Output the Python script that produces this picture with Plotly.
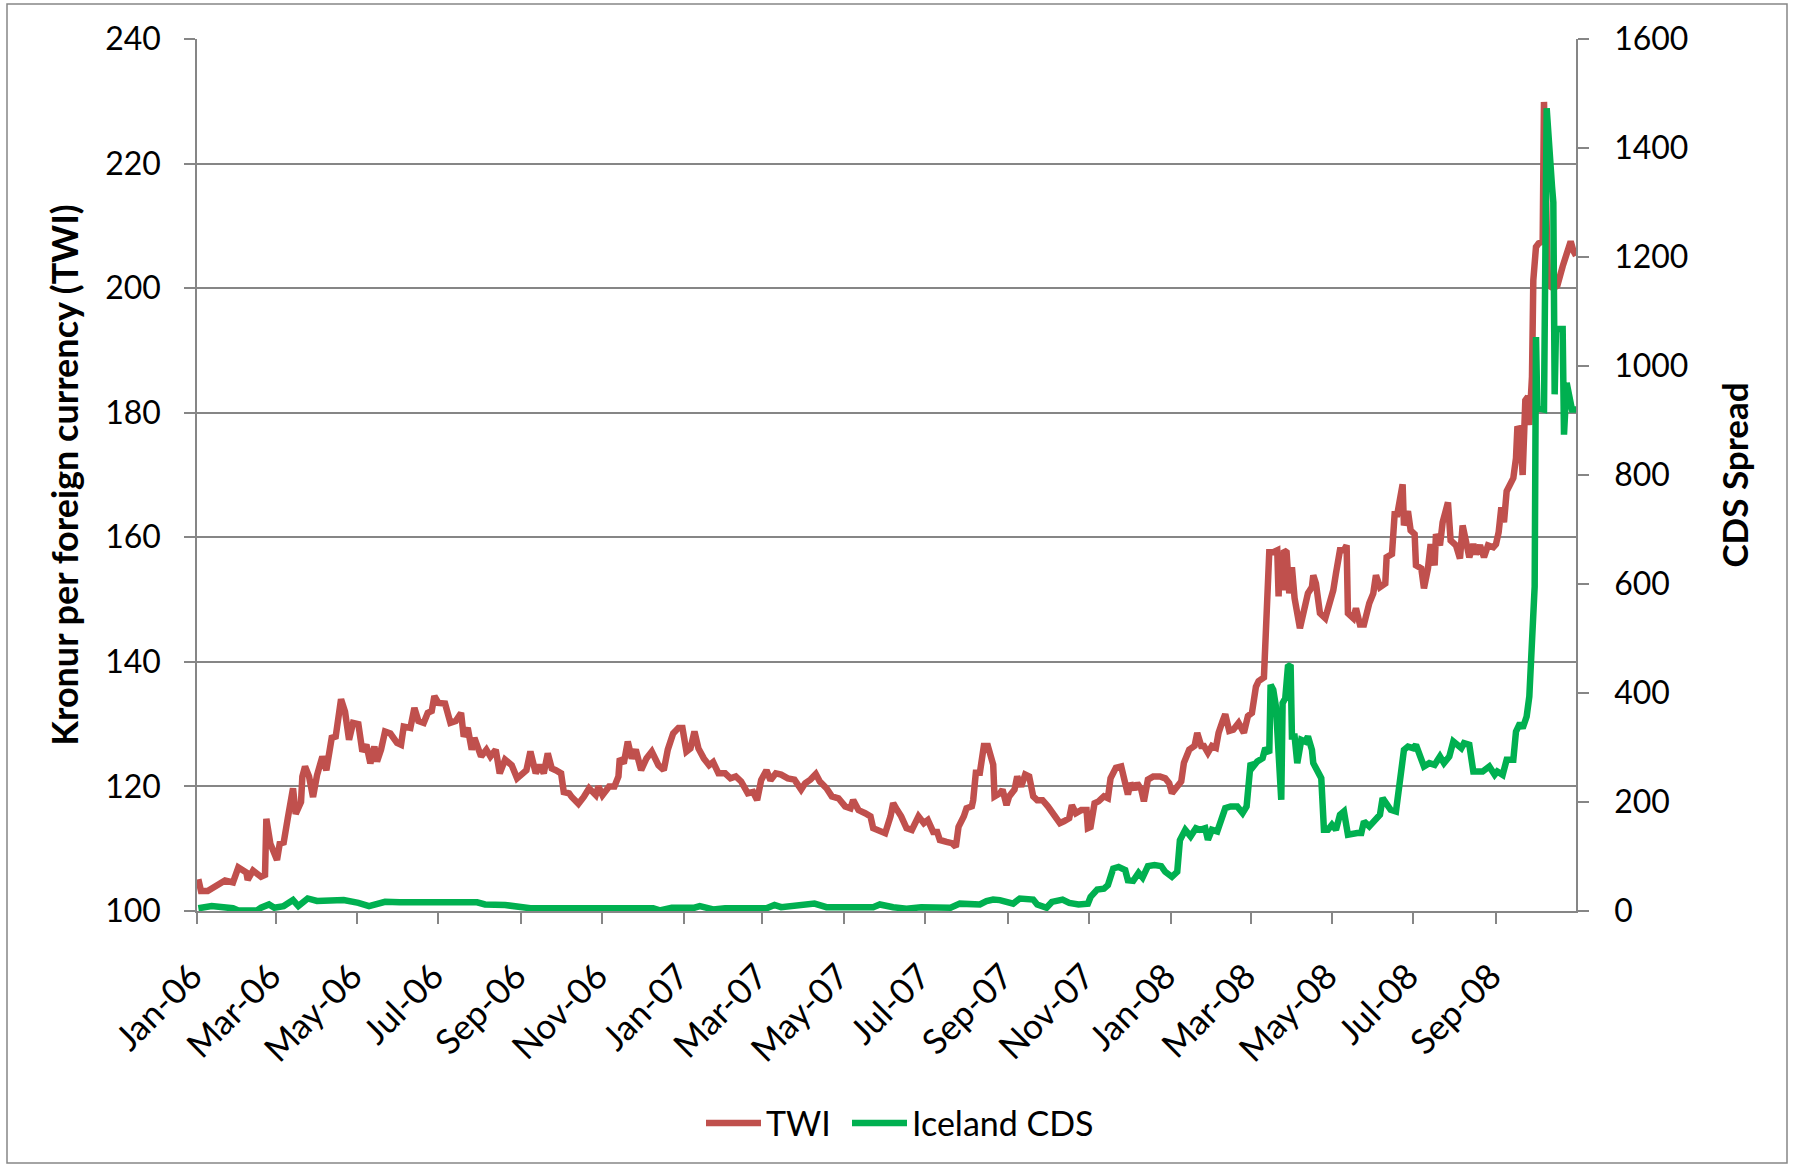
import plotly.graph_objects as go

# ---------------- data ----------------
twi_dates = [
    "2006-01-02", "2006-01-04", "2006-01-09", "2006-01-16", "2006-01-22", "2006-01-28",
    "2006-02-01", "2006-02-07", "2006-02-08", "2006-02-12", "2006-02-18", "2006-02-21",
    "2006-02-22", "2006-02-25", "2006-03-02", "2006-03-04", "2006-03-07", "2006-03-10",
    "2006-03-12", "2006-03-14", "2006-03-16", "2006-03-20", "2006-03-21", "2006-03-23",
    "2006-03-26", "2006-03-29", "2006-04-01", "2006-04-05", "2006-04-08", "2006-04-12",
    "2006-04-15", "2006-04-19", "2006-04-22", "2006-04-25", "2006-04-28", "2006-05-02",
    "2006-05-05", "2006-05-08", "2006-05-11", "2006-05-14", "2006-05-16", "2006-05-19",
    "2006-05-22", "2006-05-26", "2006-05-31", "2006-06-03", "2006-06-05", "2006-06-10",
    "2006-06-13", "2006-06-16", "2006-06-20", "2006-06-23", "2006-06-26", "2006-06-28",
    "2006-07-01", "2006-07-06", "2006-07-10", "2006-07-14", "2006-07-18", "2006-07-20",
    "2006-07-23", "2006-07-26", "2006-07-28", "2006-08-02", "2006-08-06", "2006-08-09",
    "2006-08-13", "2006-08-16", "2006-08-20", "2006-08-25", "2006-08-29", "2006-09-02",
    "2006-09-05", "2006-09-08", "2006-09-12", "2006-09-15", "2006-09-18", "2006-09-21",
    "2006-09-24", "2006-09-27", "2006-10-01", "2006-10-03", "2006-10-07", "2006-10-09",
    "2006-10-14", "2006-10-18", "2006-10-22", "2006-10-27", "2006-10-29", "2006-11-01",
    "2006-11-06", "2006-11-10", "2006-11-13", "2006-11-14", "2006-11-17", "2006-11-20",
    "2006-11-23", "2006-11-26", "2006-11-30", "2006-12-04", "2006-12-08", "2006-12-13",
    "2006-12-17", "2006-12-20", "2006-12-24", "2006-12-28", "2006-12-31",
    "2007-01-03", "2007-01-06", "2007-01-09", "2007-01-12", "2007-01-16", "2007-01-20",
    "2007-01-23", "2007-01-27", "2007-02-01", "2007-02-05", "2007-02-09", "2007-02-13",
    "2007-02-18", "2007-02-22", "2007-02-25", "2007-02-28", "2007-03-04", "2007-03-07",
    "2007-03-11", "2007-03-15", "2007-03-20", "2007-03-25", "2007-03-30", "2007-04-02",
    "2007-04-06", "2007-04-10", "2007-04-13", "2007-04-18", "2007-04-22", "2007-04-27",
    "2007-05-02", "2007-05-06", "2007-05-08", "2007-05-12", "2007-05-17", "2007-05-21",
    "2007-05-23", "2007-05-28", "2007-06-01", "2007-06-05", "2007-06-07", "2007-06-10",
    "2007-06-13", "2007-06-17", "2007-06-21", "2007-06-26", "2007-06-30", "2007-07-03",
    "2007-07-07", "2007-07-10", "2007-07-12", "2007-07-17", "2007-07-21", "2007-07-24",
    "2007-07-26", "2007-07-30", "2007-08-01", "2007-08-05", "2007-08-06", "2007-08-08",
    "2007-08-11", "2007-08-14", "2007-08-17", "2007-08-21", "2007-08-22", "2007-08-26",
    "2007-08-28", "2007-08-31", "2007-09-02", "2007-09-06", "2007-09-08", "2007-09-11",
    "2007-09-14", "2007-09-17", "2007-09-20", "2007-09-23", "2007-09-27", "2007-10-01",
    "2007-10-03", "2007-10-06", "2007-10-10", "2007-10-13", "2007-10-17", "2007-10-19",
    "2007-10-22", "2007-10-26", "2007-10-30", "2007-10-31", "2007-11-02", "2007-11-05",
    "2007-11-08", "2007-11-12", "2007-11-15", "2007-11-17", "2007-11-21", "2007-11-25",
    "2007-11-27", "2007-11-30", "2007-12-02", "2007-12-05", "2007-12-07", "2007-12-10",
    "2007-12-12", "2007-12-15", "2007-12-19", "2007-12-24", "2007-12-28", "2007-12-31",
    "2008-01-02", "2008-01-06", "2008-01-09", "2008-01-11", "2008-01-15", "2008-01-19",
    "2008-01-21", "2008-01-24", "2008-01-26", "2008-01-29", "2008-02-01", "2008-02-04",
    "2008-02-06", "2008-02-09", "2008-02-11", "2008-02-14", "2008-02-17", "2008-02-21",
    "2008-02-25", "2008-02-28", "2008-03-02", "2008-03-05", "2008-03-07", "2008-03-11",
    "2008-03-12", "2008-03-13", "2008-03-15", "2008-03-18", "2008-03-21", "2008-03-22",
    "2008-03-23", "2008-03-25", "2008-03-26", "2008-03-28", "2008-03-30", "2008-04-01",
    "2008-04-03", "2008-04-07", "2008-04-11", "2008-04-13", "2008-04-16", "2008-04-17",
    "2008-04-19", "2008-04-22", "2008-04-26", "2008-04-29", "2008-05-02", "2008-05-04",
    "2008-05-07", "2008-05-10", "2008-05-12", "2008-05-13", "2008-05-17", "2008-05-19",
    "2008-05-22", "2008-05-25", "2008-05-27", "2008-05-29", "2008-06-01", "2008-06-03",
    "2008-06-06", "2008-06-10", "2008-06-11", "2008-06-15", "2008-06-17", "2008-06-19",
    "2008-06-23", "2008-06-24", "2008-06-27", "2008-06-29", "2008-07-02", "2008-07-03",
    "2008-07-07", "2008-07-09", "2008-07-12", "2008-07-14", "2008-07-17", "2008-07-18",
    "2008-07-21", "2008-07-23", "2008-07-27", "2008-07-29", "2008-08-02", "2008-08-05",
    "2008-08-07", "2008-08-10", "2008-08-12", "2008-08-15", "2008-08-17", "2008-08-20",
    "2008-08-23", "2008-08-26", "2008-08-30", "2008-09-01", "2008-09-03", "2008-09-05",
    "2008-09-07", "2008-09-09", "2008-09-11", "2008-09-14", "2008-09-16", "2008-09-17",
    "2008-09-19", "2008-09-21", "2008-09-23", "2008-09-25", "2008-09-26", "2008-09-28",
    "2008-09-29", "2008-10-01", "2008-10-03", "2008-10-06", "2008-10-07", "2008-10-10",
    "2008-10-14", "2008-10-17", "2008-10-21", "2008-10-25", "2008-10-27", "2008-10-29",
    "2008-10-31",
]
twi_values = [
    105.1, 103.2, 103.2, 104.0, 104.9, 104.6,
    107.0, 106.2, 105.0, 106.5, 105.5, 105.8,
    114.8, 110.8, 108.2, 110.8, 111.0, 114.8,
    117.8, 119.7, 115.6, 117.5, 121.6, 123.2,
    121.6, 118.3, 121.8, 124.8, 122.6, 127.8,
    128.0, 134.0, 132.0, 127.5, 130.2, 130.0,
    125.6, 126.7, 123.7, 126.4, 124.0, 125.9,
    128.8, 128.5, 127.0, 126.7, 129.6, 129.4,
    132.6, 130.5, 130.2, 131.8, 132.1, 134.5,
    133.4, 133.3, 130.2, 130.5, 131.8, 128.0,
    129.4, 125.9, 127.8, 124.8, 125.9, 124.8,
    125.9, 122.1, 124.3, 123.4, 121.3, 122.1,
    122.6, 125.6, 122.1, 123.4, 122.1, 125.3,
    122.9, 122.6, 122.1, 119.1, 118.9, 118.3,
    117.2, 118.3, 119.7, 118.6, 120.0, 118.6,
    120.0, 120.0, 121.6, 124.5, 123.7, 127.2,
    124.5, 125.9, 122.6, 124.5, 125.6, 123.4,
    122.6, 125.9, 128.5, 129.4, 129.4,
    125.6, 126.1, 128.8, 126.1, 124.5, 123.4,
    123.9, 122.1, 122.1, 121.3, 121.6, 120.8,
    118.9, 119.1, 117.8, 121.0, 122.6, 121.0,
    122.1, 121.9, 121.3, 121.1, 119.5, 120.5,
    121.1, 122.0, 120.8, 119.7, 118.4, 118.1,
    116.8, 116.5, 117.8, 116.2, 115.7, 115.2,
    113.3, 113.0, 112.5, 115.2, 117.3, 116.2,
    115.2, 113.3, 113.0, 115.2, 114.1, 114.6,
    112.7, 112.7, 111.4, 111.1, 110.9, 110.3,
    113.5, 115.2, 116.5, 116.8, 117.8, 122.2,
    122.2, 126.5, 126.5, 123.5, 118.4, 118.9,
    119.5, 117.0, 118.4, 119.5, 121.6, 120.0,
    121.9, 121.6, 118.4, 117.8, 117.8, 116.8,
    116.2, 115.2, 114.1, 114.4, 114.9, 117.0,
    115.7, 116.2, 116.2, 113.3, 113.5, 117.3,
    117.6, 118.4, 118.1, 121.3, 123.0, 123.2,
    121.6, 118.7, 120.5, 119.5, 120.5, 119.5,
    117.6, 121.1, 121.6, 121.6, 121.3, 120.5,
    118.9, 120.0, 120.8, 123.8, 125.9, 126.5,
    128.6, 126.5, 126.5, 125.4, 126.5, 126.2,
    128.6, 130.5, 131.6, 128.9, 129.1, 130.2,
    128.6, 131.3, 131.8, 136.0, 136.9, 137.5,
    141.7, 147.3, 157.6, 157.6, 157.9, 150.5,
    157.6, 151.5, 157.9, 157.6, 151.0, 155.2,
    150.2, 145.4, 148.9, 151.0, 152.0, 153.9,
    152.6, 147.8, 147.0, 149.4, 151.5, 154.2,
    157.9, 157.9, 158.7, 147.8, 147.0, 148.6,
    146.0, 146.0, 147.8, 149.4, 151.0, 153.9,
    152.0, 152.6, 156.8, 157.3, 163.7, 163.7,
    168.5, 161.9, 164.2, 161.1, 160.5, 155.5,
    155.0, 151.8, 155.0, 158.9, 155.5, 160.5,
    158.7, 162.4, 165.6, 159.5, 158.7, 156.6,
    161.9, 158.7, 156.8, 158.9, 157.3, 158.7,
    156.8, 158.7, 158.4, 158.9, 160.8, 164.8,
    162.4, 167.4, 168.5, 169.5, 172.7, 177.4,
    177.5, 170.0, 182.0, 182.6, 178.0, 185.8,
    201.3, 206.6, 207.2, 207.5, 229.9, 200.5,
    200.0, 200.4, 203.5, 205.9, 207.5, 206.0,
    205.2,
]

cds_dates = [
    "2006-01-02", "2006-01-12", "2006-01-28", "2006-02-01", "2006-02-15", "2006-02-18",
    "2006-02-24", "2006-02-28", "2006-03-07", "2006-03-14", "2006-03-18", "2006-03-25",
    "2006-04-01", "2006-04-12", "2006-04-21", "2006-05-02", "2006-05-10", "2006-05-22",
    "2006-06-02", "2006-07-30", "2006-08-05", "2006-08-20", "2006-08-28", "2006-09-08",
    "2006-12-09", "2006-12-14", "2006-12-23",
    "2007-01-09", "2007-01-13", "2007-01-23", "2007-02-01", "2007-03-04", "2007-03-10",
    "2007-03-15", "2007-04-09", "2007-04-13", "2007-04-18", "2007-05-23", "2007-05-28",
    "2007-06-07", "2007-06-17", "2007-06-28", "2007-07-10", "2007-07-20", "2007-07-27",
    "2007-08-03", "2007-08-11", "2007-08-16", "2007-08-21", "2007-08-26", "2007-09-05",
    "2007-09-10", "2007-09-20", "2007-09-23", "2007-09-30", "2007-10-04", "2007-10-12",
    "2007-10-17", "2007-10-24", "2007-10-31", "2007-11-02", "2007-11-07", "2007-11-12",
    "2007-11-15", "2007-11-19", "2007-11-23", "2007-11-28", "2007-11-30", "2007-12-04",
    "2007-12-08", "2007-12-11", "2007-12-15", "2007-12-20", "2007-12-25", "2007-12-28",
    "2008-01-02", "2008-01-06", "2008-01-08", "2008-01-12", "2008-01-16", "2008-01-20",
    "2008-01-23", "2008-01-27", "2008-01-29", "2008-02-01", "2008-02-05", "2008-02-07",
    "2008-02-11", "2008-02-15", "2008-02-20", "2008-02-24", "2008-02-27", "2008-03-01",
    "2008-03-03", "2008-03-06", "2008-03-10", "2008-03-12", "2008-03-15", "2008-03-16",
    "2008-03-18", "2008-03-20", "2008-03-22", "2008-03-24", "2008-03-25", "2008-03-27",
    "2008-03-29", "2008-03-31", "2008-04-01", "2008-04-03", "2008-04-05", "2008-04-08",
    "2008-04-11", "2008-04-13", "2008-04-16", "2008-04-17", "2008-04-21", "2008-04-23",
    "2008-04-25", "2008-04-28", "2008-05-01", "2008-05-04", "2008-05-07", "2008-05-10",
    "2008-05-13", "2008-05-17", "2008-05-20", "2008-05-23", "2008-05-25", "2008-05-29",
    "2008-06-02", "2008-06-06", "2008-06-08", "2008-06-11", "2008-06-14", "2008-06-18",
    "2008-06-20", "2008-06-21", "2008-06-24", "2008-06-27", "2008-07-01", "2008-07-03",
    "2008-07-06", "2008-07-09", "2008-07-13", "2008-07-17", "2008-07-21", "2008-07-24",
    "2008-07-28", "2008-07-31", "2008-08-03", "2008-08-06", "2008-08-08", "2008-08-12",
    "2008-08-15", "2008-08-18", "2008-08-22", "2008-08-27", "2008-08-31", "2008-09-02",
    "2008-09-06", "2008-09-09", "2008-09-14", "2008-09-16", "2008-09-19", "2008-09-21",
    "2008-09-24", "2008-09-26", "2008-09-29", "2008-09-30", "2008-10-01", "2008-10-02",
    "2008-10-07", "2008-10-09", "2008-10-13", "2008-10-14", "2008-10-15", "2008-10-16",
    "2008-10-21", "2008-10-22", "2008-10-24", "2008-10-27", "2008-10-28", "2008-10-31",
]
cds_values = [
    5, 9, 5, 1, 1, 6,
    12, 6, 9, 20, 9, 23,
    18.5, 20, 20, 15, 9, 17,
    16, 16, 12, 11, 8, 5,
    5, 1, 6,
    6, 9, 3, 5, 5, 11,
    7, 13.5, 10, 7, 7, 12,
    7, 4, 7, 7, 6, 13.5,
    12, 12, 18, 21, 20, 13.5,
    23, 21, 12, 6, 16.6, 21,
    14.7, 12, 13.5, 25.8, 39.3, 41,
    47.3, 78, 81, 75, 56.5, 55.3,
    70, 61.4, 82.3, 84.2, 82.3, 71.9,
    62.7, 72, 130, 149, 136.9, 152,
    149, 152, 130.7, 149, 146, 161.3,
    188.8, 191.8, 191.8, 179.6, 191.8, 271.3,
    265.2, 274.3, 280.4, 298.8, 289.6, 414.9,
    405.7, 375.2, 277.4, 204, 381.3, 390.4,
    448.5, 451.5, 320.2, 320.2, 271.3, 314,
    311, 320.2, 295.7, 271.3, 253, 243.8,
    149, 149, 158.2, 149, 176.6, 182.7,
    139.9, 143, 143, 143, 164.4, 155.2,
    167.4, 176.6, 207.1, 198, 185.7, 182.7,
    216.3, 243.8, 295.7, 301.8, 298.8, 304.9,
    286.6, 265.2, 271.3, 268.2, 283.5, 271.3,
    283.5, 311, 304.9, 298.8, 307.9, 304.9,
    256, 256, 256, 265.2, 249.9, 256,
    249.9, 277.4, 277.4, 329.3, 344.6, 335.4,
    356.8, 393.5, 582.9, 595, 1053, 923,
    920, 1473, 1330, 1300, 948, 1068,
    1068, 874, 969, 941, 920, 920,
]

x_range = ["2006-01-01", "2008-10-31"]
twi_range = [100, 240]
cds_range = [0, 1600]

# ---------------- layout constants ----------------
W, H = 1793, 1166
L, R, T, B = 197, 217, 39, 255
PW, PH = W - L - R, H - T - B
FONT = "Lato, 'Open Sans', Arial, sans-serif"
GREY = "#868686"
RED = "#C0504D"
GREEN = "#00B050"
LW = 6.5

fig = go.Figure()
fig.add_trace(go.Scatter(
    x=twi_dates, y=twi_values, name="TWI", mode="lines",
    line=dict(color=RED, width=LW), yaxis="y", legendwidth=76))
fig.add_trace(go.Scatter(
    x=cds_dates, y=cds_values, name="Iceland CDS", mode="lines",
    line=dict(color=GREEN, width=LW), yaxis="y2", legendwidth=200))

tickfont = dict(family=FONT, size=32, color="black")
xtickfont = dict(family=FONT, size=35, color="black")
titlefont = dict(family=FONT, size=36, color="black", weight="bold")
titlefont2 = dict(family=FONT, size=35, color="black", weight="bold")

fig.update_layout(
    width=W, height=H, autosize=False,
    margin=dict(l=L, r=R, t=T, b=B),
    paper_bgcolor="white", plot_bgcolor="white",
    font=dict(family=FONT, color="black"),
    showlegend=True,
    legend=dict(
        orientation="h", xref="container", yref="container",
        x=701 / W, xanchor="left", y=1 - 1123.5 / H, yanchor="middle",
        font=dict(family=FONT, size=34, color="black"),
        itemwidth=55, entrywidthmode="pixels",
        tracegroupgap=0, bgcolor="rgba(0,0,0,0)",
    ),
    xaxis=dict(
        type="date", range=x_range, tick0="2006-01-01", dtick="M2",
        tickformat="%b-%y", tickangle=-45, tickfont=xtickfont,
        showgrid=False, zeroline=False,
        showline=True, linecolor=GREY, linewidth=1.5,
        ticks="outside", ticklen=11, tickwidth=1.5, tickcolor=GREY,
        ticklabelstandoff=18, ticklabelshift=-5,
    ),
    yaxis=dict(
        range=twi_range, dtick=20, tickfont=tickfont,
        showgrid=True, gridcolor=GREY, gridwidth=1.5, zeroline=False,
        showline=True, linecolor=GREY, linewidth=1.5,
        ticks="outside", ticklen=11, tickwidth=1.5, tickcolor=GREY,
        ticklabelstandoff=17,
        title=dict(text="Kronur per foreign currency (TWI)", font=titlefont, standoff=16),
    ),
    yaxis2=dict(
        range=cds_range, dtick=200, tickfont=tickfont, overlaying="y", side="right",
        showgrid=False, zeroline=False,
        showline=True, linecolor=GREY, linewidth=1.5,
        ticks="outside", ticklen=11, tickwidth=1.5, tickcolor=GREY,
        ticklabelstandoff=19,
        title=dict(text="CDS Spread", font=titlefont2, standoff=36),
    ),
)

# outer chart border (thin grey frame around the whole chart area)
fig.add_shape(
    type="rect", xref="paper", yref="paper", layer="below",
    x0=(7 - L) / PW, x1=(1787 - L) / PW,
    y0=(H - B - 1163) / PH, y1=(H - B - 4) / PH,
    line=dict(color=GREY, width=1.5), fillcolor="rgba(0,0,0,0)",
)

# remove the default page margin so the figure sits at the window origin
fig.write_html(
    "out.html",
    config={"displayModeBar": False},
    post_script="document.body.style.margin='0';",
)
